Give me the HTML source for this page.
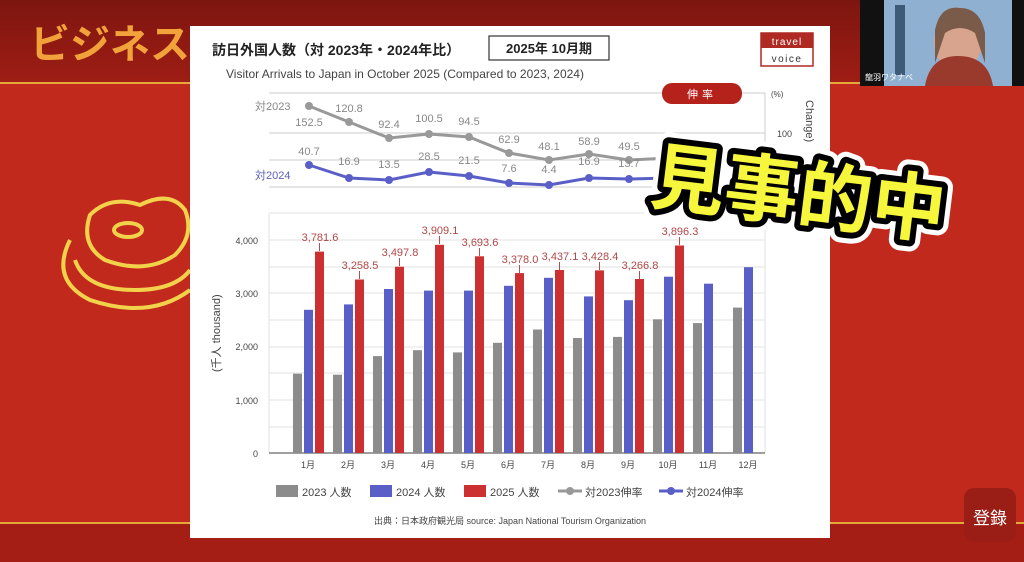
<!DOCTYPE html>
<html><head><meta charset="utf-8"><style>
html,body{margin:0;padding:0;width:1024px;height:562px;overflow:hidden;background:#c2291d}
svg{display:block}
text{font-family:"Liberation Sans","Noto Sans CJK JP",sans-serif}
</style></head><body>
<svg width="1024" height="562" viewBox="0 0 1024 562">
<defs>
<linearGradient id="tb" x1="0" y1="0" x2="0" y2="1"><stop offset="0" stop-color="#7d1610"/><stop offset="1" stop-color="#9e1d14"/></linearGradient>
</defs>
<rect width="1024" height="562" fill="#c2291d"/>
<rect width="1024" height="82" fill="url(#tb)"/>
<rect y="82" width="1024" height="2" fill="#e6a83a"/>
<rect y="522" width="1024" height="2" fill="#e6a83a"/>
<rect y="524" width="1024" height="38" fill="#a51e15"/>
<text x="30" y="58" font-size="40" font-weight="bold" fill="#f2a23a">ビジネス</text>
<g fill="none" stroke="#f2d24a" stroke-width="4">
<path d="M90 215 q20 -20 50 -10 q30 -15 45 5 q10 25 -10 45 q-30 20 -70 5 q-25 -15 -15 -45z"/>
<ellipse cx="128" cy="230" rx="14" ry="7"/>
<path d="M70 240 q-20 40 20 60 q60 20 100 -10"/>
<path d="M75 260 q10 30 60 30 q40 0 55 -20"/>
</g>
<rect x="860" y="0" width="164" height="86" fill="#111"/>
<rect x="884" y="0" width="128" height="86" fill="#8fb0d0"/>
<rect x="895" y="5" width="10" height="70" fill="#3d5a78"/>
<ellipse cx="958" cy="42" rx="24" ry="28" fill="#d9a48e"/>
<path d="M925 86 q5 -30 33 -30 q30 0 35 30z" fill="#9a3a2c"/>
<path d="M935 30 q5 -25 25 -22 q20 0 25 25 l0 30 l-10 -30 q-15 -10 -30 0 l-10 30z" fill="#7a5a48"/>
<text x="865" y="80" font-size="8" fill="#fff">龍羽ワタナベ</text>
<rect x="190" y="26" width="640" height="512" fill="#fff"/>
<text x="212" y="55" font-size="14" font-weight="bold" fill="#222">訪日外国人数（対 2023年・2024年比）</text>
<rect x="489" y="36" width="120" height="24" fill="#fff" stroke="#333" stroke-width="1.2"/>
<text x="549" y="53" font-size="13" font-weight="bold" fill="#222" text-anchor="middle">2025年 10月期</text>
<text x="226" y="78" font-size="12" fill="#444">Visitor Arrivals to Japan in October 2025 (Compared to 2023, 2024)</text>
<rect x="761" y="33" width="52" height="33" fill="#fff" stroke="#b02a24" stroke-width="1.5"/>
<rect x="761" y="33" width="52" height="15" fill="#b02a24"/>
<text x="787" y="45" font-size="10" fill="#fff" text-anchor="middle" letter-spacing="1">travel</text>
<text x="787" y="62" font-size="10" fill="#333" text-anchor="middle" letter-spacing="1.5">voice</text>
<g stroke="#ccc" stroke-width="1">
<line x1="269" y1="93" x2="765" y2="93"/><line x1="269" y1="133" x2="765" y2="133"/>
<line x1="269" y1="160" x2="765" y2="160"/><line x1="269" y1="187" x2="765" y2="187"/>
<line x1="765" y1="93" x2="765" y2="187"/>
</g>
<rect x="662" y="83" width="80" height="21" rx="10" fill="#b5221c"/>
<text x="702" y="98" font-size="11" fill="#fff" text-anchor="middle" letter-spacing="4">伸率</text>
<text x="771" y="97" font-size="8" fill="#444">(%)</text>
<text x="777" y="137" font-size="9" fill="#444">100</text>
<text transform="translate(806,100) rotate(90)" font-size="11" fill="#444">Change)</text>
<text x="255" y="110" font-size="11" fill="#888">対2023</text>
<text x="255" y="179" font-size="11" fill="#5a5fb5">対2024</text>
<polyline fill="none" stroke="#999" stroke-width="3" points="309,106 349,122 389,138 429,134 469,137 509,153 549,160 589,154 629,160 669,158"/>
<g fill="#999"><circle cx="309" cy="106" r="4"/><circle cx="349" cy="122" r="4"/><circle cx="389" cy="138" r="4"/><circle cx="429" cy="134" r="4"/><circle cx="469" cy="137" r="4"/><circle cx="509" cy="153" r="4"/><circle cx="549" cy="160" r="4"/><circle cx="589" cy="154" r="4"/><circle cx="629" cy="160" r="4"/></g>
<polyline fill="none" stroke="#5a5fc8" stroke-width="3" points="309,165 349,178 389,180 429,172 469,176 509,183 549,185 589,178 629,179 669,178"/>
<g fill="#5a5fc8"><circle cx="309" cy="165" r="4"/><circle cx="349" cy="178" r="4"/><circle cx="389" cy="180" r="4"/><circle cx="429" cy="172" r="4"/><circle cx="469" cy="176" r="4"/><circle cx="509" cy="183" r="4"/><circle cx="549" cy="185" r="4"/><circle cx="589" cy="178" r="4"/><circle cx="629" cy="179" r="4"/></g>
<g font-size="11" fill="#888" text-anchor="middle">
<text x="309" y="126">152.5</text><text x="349" y="112">120.8</text><text x="389" y="128">92.4</text><text x="429" y="122">100.5</text><text x="469" y="125">94.5</text><text x="509" y="143">62.9</text><text x="549" y="150">48.1</text><text x="589" y="145">58.9</text><text x="629" y="150">49.5</text><text x="669" y="148">54</text>
<text x="309" y="155">40.7</text><text x="349" y="165">16.9</text><text x="389" y="168">13.5</text><text x="429" y="160">28.5</text><text x="469" y="164">21.5</text><text x="509" y="172">7.6</text><text x="549" y="173">4.4</text><text x="589" y="165">16.9</text><text x="629" y="167">13.7</text>
</g>
<g stroke="#e2e2e2" stroke-width="1">
<line x1="269" y1="213" x2="765" y2="213"/><line x1="269" y1="240" x2="765" y2="240"/><line x1="269" y1="267" x2="765" y2="267"/><line x1="269" y1="293" x2="765" y2="293"/><line x1="269" y1="320" x2="765" y2="320"/><line x1="269" y1="347" x2="765" y2="347"/><line x1="269" y1="373" x2="765" y2="373"/><line x1="269" y1="400" x2="765" y2="400"/><line x1="269" y1="427" x2="765" y2="427"/>
<line x1="765" y1="213" x2="765" y2="453"/><line x1="269" y1="213" x2="269" y2="453"/>
</g>
<line x1="269" y1="453" x2="765" y2="453" stroke="#666" stroke-width="1.2"/>
<g font-size="9" fill="#444" text-anchor="end">
<text x="258" y="244">4,000</text><text x="258" y="297">3,000</text><text x="258" y="350">2,000</text><text x="258" y="404">1,000</text><text x="258" y="457">0</text>
</g>
<text transform="translate(220,372) rotate(-90)" font-size="11" fill="#444">(千人 thousand)</text>
<g fill="#8c8c8c">
<rect x="293" y="373.7" width="9" height="79.3"/><rect x="333" y="374.7" width="9" height="78.3"/><rect x="373" y="356.1" width="9" height="96.9"/><rect x="413" y="350.2" width="9" height="102.8"/><rect x="453" y="352.4" width="9" height="100.6"/><rect x="493" y="342.8" width="9" height="110.2"/><rect x="533" y="329.5" width="9" height="123.5"/><rect x="573" y="338" width="9" height="115"/><rect x="613" y="336.9" width="9" height="116.1"/><rect x="653" y="319.3" width="9" height="133.7"/><rect x="693" y="323.1" width="9" height="129.9"/><rect x="733" y="307.6" width="9" height="145.4"/>
</g>
<g fill="#5a5fc8">
<rect x="304" y="309.8" width="9" height="143.2"/><rect x="344" y="304.4" width="9" height="148.6"/><rect x="384" y="289" width="9" height="164"/><rect x="424" y="290.6" width="9" height="162.4"/><rect x="464" y="290.6" width="9" height="162.4"/><rect x="504" y="285.8" width="9" height="167.2"/><rect x="544" y="277.8" width="9" height="175.2"/><rect x="584" y="296.4" width="9" height="156.6"/><rect x="624" y="300.2" width="9" height="152.8"/><rect x="664" y="276.7" width="9" height="176.3"/><rect x="704" y="283.7" width="9" height="169.3"/><rect x="744" y="267.2" width="9" height="185.8"/>
</g>
<g fill="#cc3030">
<rect x="315" y="251.6" width="9" height="201.4"/><rect x="355" y="279.5" width="9" height="173.5"/><rect x="395" y="266.7" width="9" height="186.3"/><rect x="435" y="244.8" width="9" height="208.2"/><rect x="475" y="256.3" width="9" height="196.7"/><rect x="515" y="273.1" width="9" height="179.9"/><rect x="555" y="270" width="9" height="183"/><rect x="595" y="270.4" width="9" height="182.6"/><rect x="635" y="279" width="9" height="174"/><rect x="675" y="245.5" width="9" height="207.5"/>
</g>
<g stroke="#b05050" stroke-width="1">
<line x1="319.5" y1="243" x2="319.5" y2="251"/><line x1="359.5" y1="271" x2="359.5" y2="279"/><line x1="399.5" y1="258" x2="399.5" y2="266"/><line x1="439.5" y1="236" x2="439.5" y2="244"/><line x1="479.5" y1="248" x2="479.5" y2="256"/><line x1="519.5" y1="265" x2="519.5" y2="273"/><line x1="559.5" y1="262" x2="559.5" y2="270"/><line x1="599.5" y1="262" x2="599.5" y2="270"/><line x1="639.5" y1="271" x2="639.5" y2="279"/><line x1="679.5" y1="237" x2="679.5" y2="245"/>
</g>
<g font-size="11" fill="#b04848" text-anchor="middle">
<text x="320" y="241">3,781.6</text><text x="360" y="269">3,258.5</text><text x="400" y="256">3,497.8</text><text x="440" y="234">3,909.1</text><text x="480" y="246">3,693.6</text><text x="520" y="263">3,378.0</text><text x="560" y="260">3,437.1</text><text x="600" y="260">3,428.4</text><text x="640" y="269">3,266.8</text><text x="680" y="235">3,896.3</text>
</g>
<g font-size="9" fill="#444" text-anchor="middle">
<text x="308" y="468">1月</text><text x="348" y="468">2月</text><text x="388" y="468">3月</text><text x="428" y="468">4月</text><text x="468" y="468">5月</text><text x="508" y="468">6月</text><text x="548" y="468">7月</text><text x="588" y="468">8月</text><text x="628" y="468">9月</text><text x="668" y="468">10月</text><text x="708" y="468">11月</text><text x="748" y="468">12月</text>
</g>
<rect x="276" y="485" width="22" height="12" fill="#8c8c8c"/><text x="302" y="496" font-size="11" fill="#444">2023 人数</text>
<rect x="370" y="485" width="22" height="12" fill="#5a5fc8"/><text x="396" y="496" font-size="11" fill="#444">2024 人数</text>
<rect x="464" y="485" width="22" height="12" fill="#cc3030"/><text x="490" y="496" font-size="11" fill="#444">2025 人数</text>
<line x1="558" y1="491" x2="582" y2="491" stroke="#999" stroke-width="3"/><circle cx="570" cy="491" r="4" fill="#999"/><text x="585" y="496" font-size="11" fill="#444">対2023伸率</text>
<line x1="659" y1="491" x2="683" y2="491" stroke="#5a5fc8" stroke-width="3"/><circle cx="671" cy="491" r="4" fill="#5a5fc8"/><text x="686" y="496" font-size="11" fill="#444">対2024伸率</text>
<text x="510" y="524" font-size="9" fill="#444" text-anchor="middle">出典：日本政府観光局  source: Japan National Tourism Organization</text>
<g transform="translate(798,198) rotate(7)" font-size="74" font-weight="bold" text-anchor="middle">
<text x="0" y="22" fill="#fff" stroke="#fff" stroke-width="22" stroke-linejoin="round">見事的中</text>
<text x="0" y="22" fill="#000" stroke="#000" stroke-width="12" stroke-linejoin="round">見事的中</text>
<text x="0" y="22" fill="#f6f63c">見事的中</text>
</g>
<rect x="964" y="488" width="52" height="54" rx="10" fill="#9a1e16"/>
<text x="990" y="524" font-size="17" fill="#fff" text-anchor="middle">登錄</text>
</svg>
</body></html>
